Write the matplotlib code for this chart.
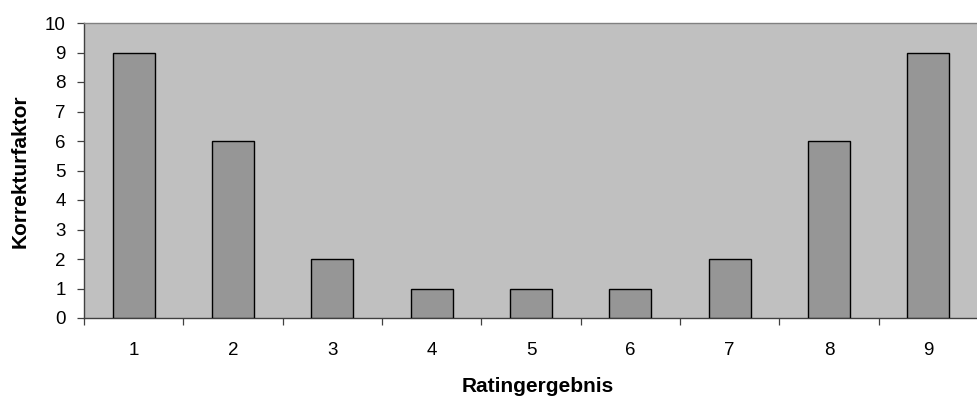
import matplotlib
matplotlib.use("Agg")
import matplotlib.pyplot as plt
import numpy as np

# data
ratings = [1, 2, 3, 4, 5, 6, 7, 8, 9]
faktor = [9, 6, 2, 1, 1, 1, 2, 6, 9]
yticks = list(range(0, 11))

plt.rcParams["font.family"] = ["Liberation Sans", "DejaVu Sans"]

W, H = 978, 398
fig = plt.figure(figsize=(W / 100, H / 100), dpi=100, facecolor="white")
ax = fig.add_axes([84 / W, 1 - 318 / H, 1 - 84 / W, (318 - 23) / H])
ax.set_facecolor("#c0c0c0")

ax.bar(ratings, faktor, width=0.42, color="#969696",
       edgecolor="black", linewidth=1.0, zorder=3)

# plot area is cut off on the right side in the original
ax.set_xlim(0.5, 0.5 + (978 - 84) / 100.8)
ax.set_ylim(0, 10)

ax.set_yticks(yticks)
ax.set_xticks(ratings)
ax.set_xticks(np.arange(0.5, 9.6, 1.0), minor=True)
ax.tick_params(axis="x", which="major", length=0, pad=17, labelsize=13.5)
ax.tick_params(axis="x", which="minor", length=5, width=0.9, color="#404040")
ax.tick_params(axis="y", length=5, width=0.9, color="#404040", labelsize=13.5, pad=8)

ax.spines["right"].set_visible(False)
ax.spines["top"].set_color("#808080")
ax.spines["top"].set_linewidth(1.0)
for s in ("left", "bottom"):
    ax.spines[s].set_color("#404040")
    ax.spines[s].set_linewidth(1.0)

fig.text(20 / W, 1 - 171 / H, "Korrekturfaktor", rotation=90, ha="center",
         va="center", fontsize=15, fontweight="bold")
fig.text(538 / W, 1 - 392 / H, "Ratingergebnis", ha="center", va="baseline",
         fontsize=15, fontweight="bold")

fig.savefig("out.png", dpi=100, facecolor="white")
